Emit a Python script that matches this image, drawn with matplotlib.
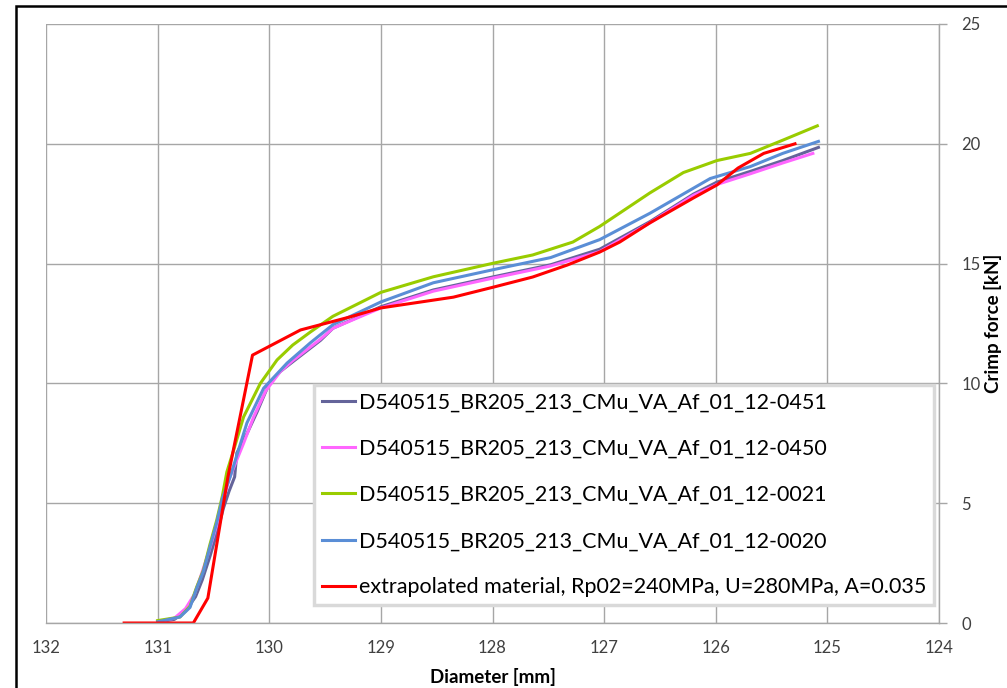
import matplotlib
matplotlib.use("Agg")
import matplotlib.pyplot as plt
from matplotlib.patches import Rectangle

plt.rcParams["font.family"] = ["Lato", "DejaVu Sans"]

# Diameter [mm] / Crimp force [kN]
x_0451 = [131.0, 130.85, 130.75, 130.66, 130.6, 130.53, 130.46, 130.41, 130.36, 130.31,
          130.29, 130.2, 130.11, 130.0, 129.9, 129.79, 129.54, 129.43, 129.0, 128.53,
          127.99, 127.48, 127.04, 126.59, 126.2, 125.99, 125.69, 125.4, 125.08]
y_0451 = [0.05, 0.15, 0.5, 1.1, 1.8, 2.8, 3.9, 4.8, 5.5, 6.1,
          7.1, 7.9, 8.8, 10.0, 10.5, 10.9, 11.8, 12.3, 13.2, 13.9,
          14.45, 14.95, 15.6, 16.75, 17.9, 18.4, 18.85, 19.3, 19.85]

x_0450 = [131.0, 130.85, 130.75, 130.67, 130.61, 130.54, 130.47, 130.42, 130.36, 130.3,
          130.23, 130.14, 130.03, 129.9, 129.79, 129.54, 129.43, 129.0, 128.53,
          127.99, 127.48, 127.04, 126.59, 126.2, 125.99, 125.69, 125.4, 125.13]
y_0450 = [0.05, 0.2, 0.6, 1.2, 2.0, 3.0, 4.1, 5.0, 6.0, 6.7,
          7.5, 8.6, 9.7, 10.5, 10.95, 11.85, 12.3, 13.15, 13.85,
          14.4, 14.9, 15.5, 16.7, 17.85, 18.3, 18.75, 19.2, 19.6]

x_0021 = [131.0, 130.8, 130.71, 130.65, 130.59, 130.53, 130.47, 130.42, 130.38, 130.32,
          130.23, 130.08, 129.93, 129.79, 129.63, 129.43, 129.0, 128.53, 127.99,
          127.64, 127.28, 127.04, 126.59, 126.29, 125.99, 125.69, 125.4, 125.09]
y_0021 = [0.1, 0.25, 0.7, 1.5, 2.2, 3.3, 4.3, 5.3, 6.3, 7.2,
          8.6, 10.0, 10.98, 11.6, 12.15, 12.8, 13.8, 14.45, 15.02,
          15.36, 15.9, 16.55, 17.95, 18.8, 19.3, 19.6, 20.15, 20.75]

x_0020 = [131.0, 130.8, 130.71, 130.65, 130.59, 130.53, 130.47, 130.42, 130.35, 130.2,
          130.05, 129.84, 129.63, 129.43, 129.0, 128.53, 127.99, 127.48, 127.04,
          126.59, 126.05, 125.69, 125.4, 125.08]
y_0020 = [0.05, 0.25, 0.65, 1.45, 2.15, 3.2, 4.2, 5.2, 6.1, 8.35,
          9.8, 10.85, 11.7, 12.45, 13.4, 14.2, 14.75, 15.25, 16.0,
          17.1, 18.55, 19.05, 19.6, 20.1]

x_extra = [131.3, 130.68, 130.55, 130.37, 130.15, 129.72, 129.28, 129.0, 128.35, 127.99,
           127.64, 127.33, 127.04, 126.86, 126.59, 126.2, 125.99, 125.8, 125.57, 125.29]
y_extra = [0.0, 0.0, 1.04, 6.1, 11.18, 12.23, 12.77, 13.15, 13.6, 14.02,
           14.44, 14.94, 15.48, 15.9, 16.7, 17.74, 18.28, 18.99, 19.6, 20.0]

labels = [
    "D540515_BR205_213_CMu_VA_Af_01_12-0451",
    "D540515_BR205_213_CMu_VA_Af_01_12-0450",
    "D540515_BR205_213_CMu_VA_Af_01_12-0021",
    "D540515_BR205_213_CMu_VA_Af_01_12-0020",
    "extrapolated material, Rp02=240MPa, U=280MPa, A=0.035",
]
colors = ["#64649A", "#FF66FF", "#99CC00", "#5A8ED6", "#FF0000"]

fig = plt.figure(figsize=(10.07, 6.88), dpi=100)
ax = fig.add_axes([46 / 1007, 1 - 623 / 688, (939 - 46) / 1007, (623 - 24) / 688])

series = [(x_0451, y_0451), (x_0450, y_0450), (x_0021, y_0021), (x_0020, y_0020), (x_extra, y_extra)]
for (xs, ys), lab, c in zip(series, labels, colors):
    ax.plot(xs, ys, color=c, lw=2.2, label=lab)

ax.set_xlim(132, 124)
ax.set_ylim(0, 25)
ax.set_xticks(range(132, 123, -1))
ax.set_yticks(range(0, 26, 5))
ax.grid(True, color="#A6A6A6", lw=1)
ax.set_axisbelow(True)

ax.yaxis.tick_right()
ax.yaxis.set_label_position("right")
for s in ["left", "top"]:
    ax.spines[s].set_visible(False)
for s in ["right", "bottom"]:
    ax.spines[s].set_color("#A6A6A6")
    ax.spines[s].set_linewidth(1)
ax.tick_params(axis="x", length=0, pad=12, labelsize=12, labelcolor="#404040")
ax.tick_params(axis="y", length=6, width=1, color="#A6A6A6", pad=10,
               labelsize=12, labelcolor="#404040")

ax.set_xlabel("Diameter [mm]", fontsize=13.5, fontweight="bold", labelpad=9)
ax.set_ylabel("Crimp force [kN]", fontsize=13.5, fontweight="bold",
              rotation=90, va="center", ha="center")
ax.yaxis.set_label_coords(1.06, 0.5)

leg = ax.legend(loc="lower left", bbox_to_anchor=(314 / 1007, 1 - 605 / 688),
                bbox_transform=fig.transFigure, fontsize=15.5, handlelength=1.55,
                labelspacing=1.22, fancybox=False, framealpha=1,
                borderpad=0.35, borderaxespad=0, handletextpad=0.2)
leg.get_frame().set_edgecolor("#D9D9D9")
leg.get_frame().set_linewidth(2.5)

# outer chart border
fig.patches.append(Rectangle((16 / 1007, -0.05), 1.0, 1 - 6 / 688 + 0.05,
                             transform=fig.transFigure, fill=False,
                             edgecolor="#000000", lw=1.8))

fig.savefig("out.png", dpi=100)
